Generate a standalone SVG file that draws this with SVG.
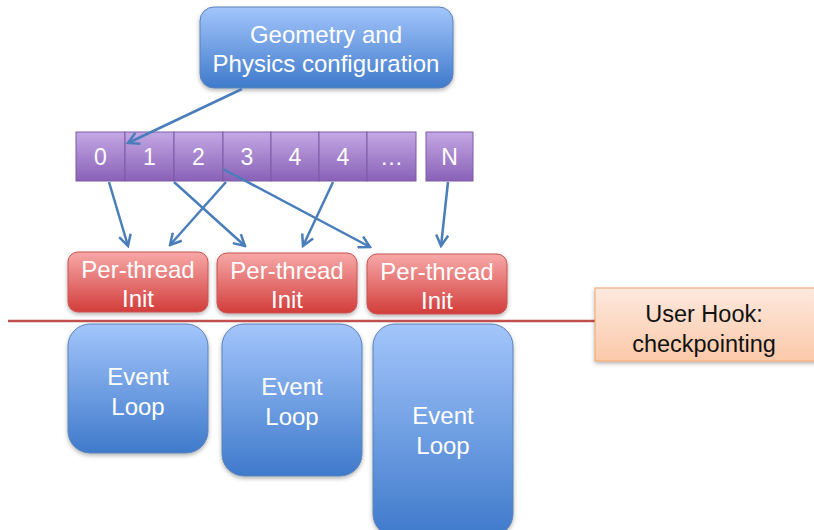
<svg xmlns="http://www.w3.org/2000/svg" width="814" height="530" viewBox="0 0 814 530">
<defs>
<linearGradient id="gBlue" x1="0" y1="0" x2="0" y2="1"><stop offset="0" stop-color="#a3c5fb"/><stop offset="1" stop-color="#3f7acb"/></linearGradient>
<linearGradient id="gPurple" x1="0" y1="0" x2="0" y2="1"><stop offset="0" stop-color="#c4a8e4"/><stop offset="1" stop-color="#8961b8"/></linearGradient>
<linearGradient id="gRed" x1="0" y1="0" x2="0" y2="1"><stop offset="0" stop-color="#f7a9a8"/><stop offset="1" stop-color="#d23d3b"/></linearGradient>
<linearGradient id="gPeach" x1="0" y1="0" x2="0" y2="1"><stop offset="0" stop-color="#fde9de"/><stop offset="1" stop-color="#fbc9a8"/></linearGradient>
<filter id="sh" x="-10%" y="-10%" width="130%" height="130%"><feDropShadow dx="0" dy="2" stdDeviation="2" flood-color="#000" flood-opacity="0.3"/></filter>
<marker id="ah" viewBox="0 0 14 14" refX="12" refY="7" markerWidth="14" markerHeight="14" markerUnits="userSpaceOnUse" orient="auto"><path d="M1,1 L12,7 L1,13" fill="none" stroke="#4a7ebb" stroke-width="2.5" stroke-linejoin="miter"/></marker>
<style>
.blue{fill:url(#gBlue);stroke:#5b82b8;stroke-width:1;filter:url(#sh)}
.cell{fill:url(#gPurple);stroke:#7d5aa6;stroke-width:1}
.red{fill:url(#gRed);stroke:#c85553;stroke-width:1;filter:url(#sh)}
.t{font-family:"Liberation Sans",Arial,sans-serif;font-size:24px;fill:#fff;text-anchor:middle}
.tc{font-family:"Liberation Sans",Arial,sans-serif;font-size:23px;fill:#fff;text-anchor:middle}
.tb{font-family:"Liberation Sans",Arial,sans-serif;font-size:23.5px;fill:#111;text-anchor:middle}
.conn{stroke:#4a7ebb;stroke-width:2.5;fill:none;marker-end:url(#ah)}
</style>
</defs>
<rect width="814" height="530" fill="#fff"/>

<g id="geometry">
<rect class="blue" x="200" y="7" width="253" height="81" rx="14"/>
<text class="t" x="326" y="43">Geometry and</text>
<text class="t" x="326" y="72">Physics configuration</text>
</g>

<g id="cells">
<g id="cell0"><rect class="cell" x="76" y="132" width="49" height="49"/><text class="tc" x="100.5" y="165">0</text></g>
<g id="cell1"><rect class="cell" x="125" y="132" width="49" height="49"/><text class="tc" x="149.5" y="165">1</text></g>
<g id="cell2"><rect class="cell" x="174" y="132" width="49" height="49"/><text class="tc" x="198.5" y="165">2</text></g>
<g id="cell3"><rect class="cell" x="223" y="132" width="48" height="49"/><text class="tc" x="247" y="165">3</text></g>
<g id="cell4a"><rect class="cell" x="271" y="132" width="48" height="49"/><text class="tc" x="295" y="165">4</text></g>
<g id="cell4b"><rect class="cell" x="319" y="132" width="48" height="49"/><text class="tc" x="343" y="165">4</text></g>
<g id="cellDots"><rect class="cell" x="367" y="132" width="49" height="49"/><text class="tc" x="391.5" y="165">…</text></g>
<g id="cellN"><rect class="cell" x="426" y="132" width="47" height="49"/><text class="tc" x="449.5" y="165">N</text></g>
</g>

<g id="init1"><rect class="red" x="68" y="252" width="140" height="60" rx="10"/><text class="t" x="138" y="278">Per-thread</text><text class="t" x="138" y="307">Init</text></g>
<g id="init2"><rect class="red" x="217" y="253" width="140" height="60" rx="10"/><text class="t" x="287" y="279">Per-thread</text><text class="t" x="287" y="308">Init</text></g>
<g id="init3"><rect class="red" x="367" y="254" width="140" height="60" rx="10"/><text class="t" x="437" y="280">Per-thread</text><text class="t" x="437" y="309">Init</text></g>

<line x1="8" y1="321" x2="596" y2="321" stroke="#c0504d" stroke-width="2.5"/>

<g id="userhook">
<rect x="595" y="288" width="225" height="73" fill="url(#gPeach)" stroke="#f0a46c" stroke-width="1" filter="url(#sh)"/>
<text class="tb" x="704" y="322">User Hook:</text>
<text class="tb" x="704" y="352">checkpointing</text>
</g>

<g id="loop1"><rect class="blue" x="68" y="324" width="140" height="129" rx="22"/><text class="t" x="138" y="385">Event</text><text class="t" x="138" y="415">Loop</text></g>
<g id="loop2"><rect class="blue" x="222" y="324" width="140" height="152" rx="22"/><text class="t" x="292" y="395">Event</text><text class="t" x="292" y="425">Loop</text></g>
<g id="loop3"><rect class="blue" x="373" y="324" width="140" height="212" rx="22"/><text class="t" x="443" y="424">Event</text><text class="t" x="443" y="454">Loop</text></g>

<g id="connectors">
<line class="conn" x1="242" y1="89" x2="128" y2="143"/>
<line class="conn" x1="109" y1="182" x2="128" y2="246"/>
<line class="conn" x1="174" y1="182" x2="245" y2="246"/>
<line class="conn" x1="226" y1="182" x2="170" y2="245"/>
<line class="conn" x1="223" y1="169" x2="370" y2="247"/>
<line class="conn" x1="333" y1="182" x2="303" y2="246"/>
<line class="conn" x1="448" y1="182" x2="441" y2="246"/>
</g>
</svg>
